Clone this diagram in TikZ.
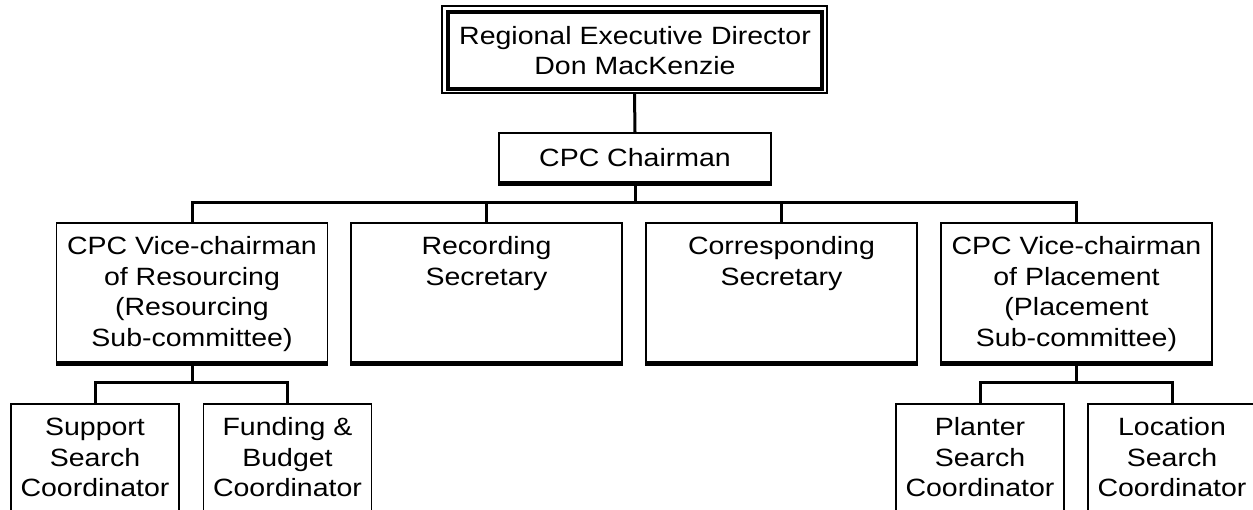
\documentclass[tikz,border=0pt]{standalone}
\usepackage{fontspec}
\setmainfont{Liberation Sans}[FakeStretch=1.14]
\begin{document}
\begin{tikzpicture}[x=1pt,y=-1pt,
  boxline/.style={draw=black, line width=1.3pt, rectangle, inner sep=0pt},
  shadowline/.style={line width=4.5pt, line cap=butt},
  conn/.style={line width=3pt, line join=miter},
  txt/.style={inner sep=0pt, align=center, font=\fontsize{25}{30.5}\selectfont},
  vbox/.style={boxline, minimum width=271pt, minimum height=139pt},
  bbox/.style={boxline, minimum width=168pt, minimum height=126pt}]
\path[fill=white] (0,0) rectangle (1253,510);
\clip (0,0) rectangle (1253,510);
\useasboundingbox (0,0) rectangle (1253,510);
% top box
\node[boxline, line width=1.2pt, minimum width=385pt, minimum height=87pt] (top) at (634.5,49.5) {};
\node[boxline, line width=4pt, minimum width=374pt, minimum height=77pt] (topin) at (635,50.5) {};
\node[txt] (toptxt) at (topin.center) {Regional Executive Director\\Don MacKenzie};
% chairman
\node[boxline, minimum width=272pt, minimum height=49pt] (chair) at (635,157.5) {};
\node[txt] (chairtxt) at (chair.center) {CPC Chairman};
% vice boxes
\node[vbox] (v1) at (192,292.5) {};
\node[vbox] (v2) at (486.5,292.5) {};
\node[vbox] (v3) at (781.5,292.5) {};
\node[vbox] (v4) at (1076.5,292.5) {};
\node[txt, anchor=north] (v1t) at ([yshift=-10pt]v1.north) {\rule{0pt}{22pt}CPC Vice-chairman\\of Resourcing\\(Resourcing\\Sub-committee)};
\node[txt, anchor=north] (v2t) at ([yshift=-10pt]v2.north) {\rule{0pt}{22pt}Recording\\Secretary};
\node[txt, anchor=north] (v3t) at ([yshift=-10pt]v3.north) {\rule{0pt}{22pt}Corresponding\\Secretary};
\node[txt, anchor=north] (v4t) at ([yshift=-10pt]v4.north) {\rule{0pt}{22pt}CPC Vice-chairman\\of Placement\\(Placement\\Sub-committee)};
% bottom boxes
\node[bbox] (b1) at (95,467) {};
\node[bbox] (b2) at (287.5,467) {};
\node[bbox] (b3) at (980,467) {};
\node[bbox] (b4) at (1172,467) {};
\node[txt, anchor=north] (b1t) at ([yshift=-10pt]b1.north) {\rule{0pt}{22pt}Support\\Search\\Coordinator};
\node[txt, anchor=north] (b2t) at ([yshift=-10pt]b2.north) {\rule{0pt}{22pt}Funding \&\\Budget\\Coordinator};
\node[txt, anchor=north] (b3t) at ([yshift=-10pt]b3.north) {\rule{0pt}{22pt}Planter\\Search\\Coordinator};
\node[txt, anchor=north] (b4t) at ([yshift=-10pt]b4.north) {\rule{0pt}{22pt}Location\\Search\\Coordinator};
% shadows
\foreach \n in {chair,v1,v2,v3,v4}{
  \draw[shadowline] ([yshift=-1.6pt]\n.south west) -- ([yshift=-1.6pt]\n.south east);
}
% bus coordinates
\coordinate (bus) at (0,203);
\coordinate (sb) at (0,383);
% connectors
\draw[conn] (top.south) -- (chair.north);
\draw[conn] ([yshift=-3pt]chair.south) -- (chair.south |- bus);
\draw[conn] (v1.north) -- (v1.north |- bus) -- (v4.north |- bus) -- (v4.north);
\draw[conn] (v2.north |- bus) -- (v2.north);
\draw[conn] (v3.north |- bus) -- (v3.north);
\draw[conn] ([yshift=-3pt]v1.south) -- (v1.south |- sb);
\draw[conn] (b1.north) -- (b1.north |- sb) -- (b2.north |- sb) -- (b2.north);
\draw[conn] ([yshift=-3pt]v4.south) -- (v4.south |- sb);
\draw[conn] (b3.north) -- (b3.north |- sb) -- (b4.north |- sb) -- (b4.north);
\end{tikzpicture}
\end{document}
